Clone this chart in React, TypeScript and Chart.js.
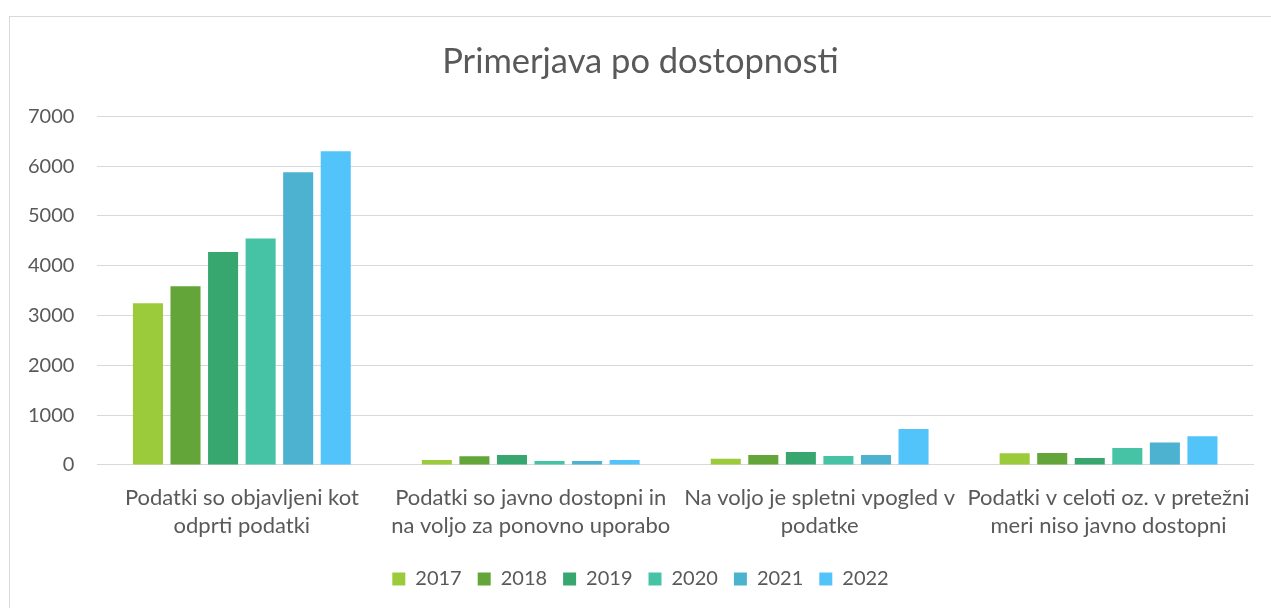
import React, { useEffect, useRef } from "react";
import { Chart, registerables } from "chart.js";

Chart.register(...registerables);

const categories: string[][] = [
  ["Podatki so objavljeni kot", "odprti podatki"],
  ["Podatki so javno dostopni in", "na voljo za ponovno uporabo"],
  ["Na voljo je spletni vpogled v", "podatke"],
  ["Podatki v celoti oz. v pretežni", "meri niso javno dostopni"],
];

const years = ["2017", "2018", "2019", "2020", "2021", "2022"];

const values2017 = [3250, 100, 125, 235];
const values2018 = [3590, 175, 200, 240];
const values2019 = [4275, 200, 260, 140];
const values2020 = [4550, 80, 180, 340];
const values2021 = [5880, 80, 200, 450];
const values2022 = [6300, 100, 725, 575];

const seriesValues = [values2017, values2018, values2019, values2020, values2021, values2022];
const colors = ["#9BCB3B", "#63A538", "#38A76F", "#46C2A4", "#4DB2D0", "#53C4FA"];

const yTicksMax = 7000;
const yTicksStep = 1000;

const FONT = "Lato, 'Open Sans', sans-serif";
const TEXT = "#595959";

export default function App() {
  const ref = useRef<HTMLCanvasElement | null>(null);

  useEffect(() => {
    if (!ref.current) return;
    const chart = new Chart(ref.current, {
      type: "bar",
      data: {
        labels: categories,
        datasets: years.map((y, i) => ({
          label: y,
          data: seriesValues[i],
          backgroundColor: colors[i],
          borderWidth: 0,
          categoryPercentage: 0.78,
          barPercentage: 0.8,
        })),
      },
      options: {
        animation: false,
        responsive: false,
        maintainAspectRatio: false,
        layout: { padding: { left: 18, right: 25, top: 0, bottom: 9 } },
        plugins: {
          tooltip: { enabled: false },
          title: {
            display: true,
            text: "Primerjava po dostopnosti",
            color: TEXT,
            font: { family: FONT, size: 34.5, weight: "normal" },
            padding: { top: 24, bottom: 34 },
          },
          legend: {
            position: "bottom",
            labels: {
              color: TEXT,
              font: { family: FONT, size: 20 },
              boxWidth: 13,
              boxHeight: 13,
              padding: 16,
            },
          },
        },
        scales: {
          x: {
            grid: { display: false, drawTicks: false },
            border: { display: true, color: "#D9D9D9", width: 1 },
            ticks: {
              color: TEXT,
              font: { family: FONT, size: 22, lineHeight: 1.273 },
              padding: 19,
              maxRotation: 0,
              autoSkip: false,
            },
            afterFit: (scale: any) => {
              scale.height -= 6;
              scale.paddingLeft = 0;
              scale.paddingRight = 0;
            },
          },
          y: {
            min: 0,
            max: yTicksMax,
            grid: { color: "#D9D9D9", drawTicks: false },
            border: { display: false },
            ticks: {
              stepSize: yTicksStep,
              color: TEXT,
              font: { family: FONT, size: 20 },
              padding: 23,
              callback: (v: any) => String(v),
            },
            afterFit: (scale: any) => {
              scale.width -= 23;
            },
          },
        },
      },
    });
    return () => chart.destroy();
  }, []);

  return (
    <div style={{ position: "fixed", left: 0, top: 0, width: 1271, height: 608, overflow: "hidden", background: "#fff" }}>
      <div
        style={{
          position: "absolute",
          left: 9,
          top: 16,
          width: 1270,
          height: 610,
          boxSizing: "border-box",
          border: "1px solid #D9D9D9",
          background: "#fff",
        }}
      >
        <canvas ref={ref} width={1268} height={591} style={{ display: "block" }} />
      </div>
    </div>
  );
}
